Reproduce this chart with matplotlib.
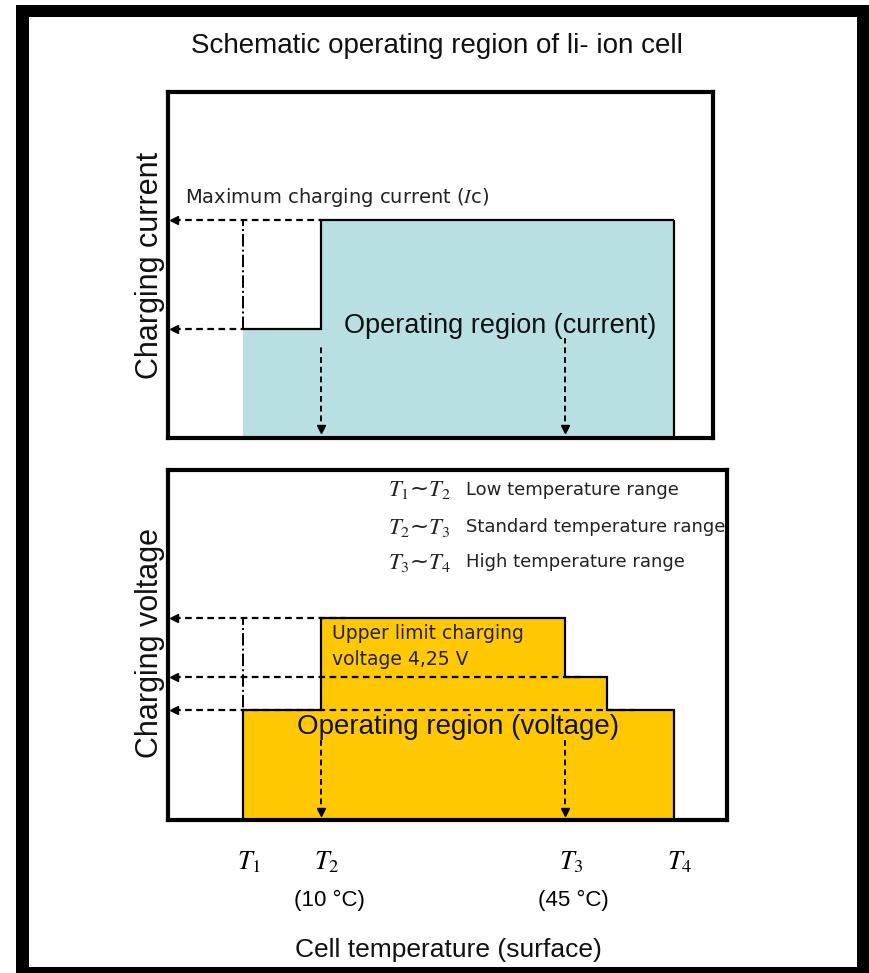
import matplotlib
matplotlib.use("Agg")
import matplotlib.pyplot as plt
from matplotlib.patches import Rectangle

plt.rcParams['mathtext.fontset'] = 'stix'
plt.rcParams['font.family'] = ['DejaVu Sans']

# schematic temperature axis (deg C-ish positions of T1..T4)
temps = [-1.2, 10, 45, 60.6]
t_names = [r'$T_1$', r'$T_2$', r'$T_3$', r'$T_4$']
t_celsius = {1: '(10 °C)', 2: '(45 °C)'}
t_mid = 51.0          # extra step of the voltage region between T3 and T4

# charging current region: values on [T1,T2] and [T2,T4]
cur_edges = [temps[0], temps[1], temps[3]]
cur_values = [0.5, 1.0]

# charging voltage region (relative to 4.25 V)
volt_edges = [temps[0], temps[1], temps[2], t_mid, temps[3]]
volt_values = [0.545, 1.0, 0.71, 0.545]

legend_lines = [
    (r'$T_1$~$T_2$', 'Low temperature range'),
    (r'$T_2$~$T_3$', 'Standard temperature range'),
    (r'$T_3$~$T_4$', 'High temperature range'),
]

narrow = ['Liberation Sans Narrow', 'Liberation Sans', 'DejaVu Sans']
blue = '#b8dfe2'
yellow = '#ffc800'
dash = (0, (3, 2))

fig = plt.figure(figsize=(8.69, 9.73), dpi=100)
W, H = 869, 973
# black picture frame
fig.patches.append(Rectangle((16 / W, 0), 1 - 16 / W, 1 - 5 / H, transform=fig.transFigure,
                             fc='black', ec='none', zorder=-20))
fig.patches.append(Rectangle((29 / W, 6 / H), (857 - 29) / W, (967 - 17) / H, transform=fig.transFigure,
                             fc='white', ec='none', zorder=-19))

ax1 = fig.add_axes([168 / W, 1 - 438 / H, (713 - 168) / W, 346 / H])
ax2 = fig.add_axes([168 / W, 1 - 820 / H, (727 - 168) / W, 350 / H])

for ax in (ax1, ax2):
    ax.set_xticks([])
    ax.set_yticks([])
    for s in ax.spines.values():
        s.set_linewidth(3)
    ax.set_facecolor('none')

# ---------------- upper panel: current ----------------
ax1.set_xlim(-12, 66.2)
ax1.set_ylim(0, 1.59)
x0 = ax1.get_xlim()[0]
ax1.stairs(cur_values, cur_edges, baseline=0, fill=True, color=blue, zorder=1)
ax1.stairs(cur_values, cur_edges, baseline=None, color='black', lw=1.6, zorder=3)
ax1.vlines(cur_edges[-1], 0, cur_values[-1], color='black', lw=1.6, zorder=3)
ax1.vlines(cur_edges[0], cur_values[0], cur_values[1], color='black', lw=1.4, ls='-.', zorder=3)

# dashed arrows to the current axis
ax1.hlines(cur_values[1], x0 + 0.8, temps[1], color='black', lw=1.6, ls=dash, zorder=4)
ax1.hlines(cur_values[0], x0 + 0.8, temps[0], color='black', lw=1.6, ls=dash, zorder=4)
ax1.plot([x0 + 0.9] * 2, [cur_values[1], cur_values[0]], ls='none', marker='<', ms=6,
         color='black', zorder=5)

# dashed arrows down to T2 and T3
for t, y0 in zip(temps[1:3], [0.43, 0.46]):
    ax1.vlines(t, 0.03, y0, color='black', lw=1.4, ls=dash, zorder=4)
    ax1.plot([t], [0.04], ls='none', marker='v', ms=6, color='black', zorder=5)

ax1.text(0.031, 0.694, r'Maximum charging current ($\mathit{I}$c)', transform=ax1.transAxes,
         ha='left', va='center', fontsize=14, color='#222222')
ax1.text(0.609, 0.324, 'Operating region (current)', transform=ax1.transAxes,
         ha='center', va='center', fontsize=19.5, family=narrow, color='#111111', zorder=6)

# ---------------- lower panel: voltage ----------------
ax2.set_xlim(-12, 68.2)
ax2.set_ylim(0, 1.733)
x0 = ax2.get_xlim()[0]
ax2.stairs(volt_values, volt_edges, baseline=0, fill=True, color=yellow, zorder=1)
ax2.stairs(volt_values, volt_edges, baseline=0, color='black', lw=1.6, zorder=3)
ax2.vlines(volt_edges[0], 0.455, volt_values[1], color='black', lw=1.4, ls='-.', zorder=3)

levels = [volt_values[1], volt_values[2], volt_values[0]]
ends = [temps[1] + 3.6, temps[2] + 2.2, t_mid + 3.8]
for lv, xe in zip(levels, ends):
    ax2.hlines(lv, x0 + 0.8, xe, color='black', lw=1.6, ls=dash, zorder=4)
ax2.plot([x0 + 0.9] * 3, levels, ls='none', marker='<', ms=6, color='black', zorder=5)

for t in temps[1:3]:
    ax2.vlines(t, 0.03, 0.40, color='black', lw=1.4, ls=dash, zorder=4)
    ax2.plot([t], [0.04], ls='none', marker='v', ms=6, color='black', zorder=5)

for i, (sym, txt) in enumerate(legend_lines):
    y = [0.943, 0.837, 0.737][i]
    ax2.text(0.394, y, sym, transform=ax2.transAxes, ha='left', va='center', fontsize=16.5,
             color='#222222')
    ax2.text(0.533, y, txt, transform=ax2.transAxes, ha='left', va='center', fontsize=13,
             color='#222222')

ax2.text(0.293, 0.496, 'Upper limit charging\nvoltage 4,25 V', transform=ax2.transAxes,
         ha='left', va='center', fontsize=13.5, linespacing=1.45, color='#222222', zorder=6)
ax2.text(0.519, 0.266, 'Operating region (voltage)', transform=ax2.transAxes,
         ha='center', va='center', fontsize=20, family=narrow, color='#111111', zorder=6)

# temperature labels under the lower panel
tr = ax2.get_xaxis_transform()
for i, (t, name) in enumerate(zip(temps, t_names)):
    ax2.text(t + 0.8, -0.12, name, transform=tr, ha='center', va='center', fontsize=19,
             clip_on=False)
    if i in t_celsius:
        ax2.text(t + 1.1, -0.231, t_celsius[i], transform=tr, ha='center', va='center',
                 fontsize=16, family=narrow, clip_on=False)

fig.text(437 / W, 1 - 46 / H, 'Schematic operating region of li- ion cell', ha='center',
         va='center', fontsize=20, family=narrow, color='#111111')
fig.text(150 / W, 1 - 265 / H, 'Charging current', rotation=90, ha='center', va='center',
         fontsize=22, family=['Liberation Sans', 'DejaVu Sans'], color='#111111')
fig.text(150 / W, 1 - 643 / H, 'Charging voltage', rotation=90, ha='center', va='center',
         fontsize=22, family=['Liberation Sans', 'DejaVu Sans'], color='#111111')
fig.text(448 / W, 1 - 950 / H, 'Cell temperature (surface)', ha='center', va='center',
         fontsize=19, family=narrow, color='#111111')

fig.savefig('out.png', dpi=100)
